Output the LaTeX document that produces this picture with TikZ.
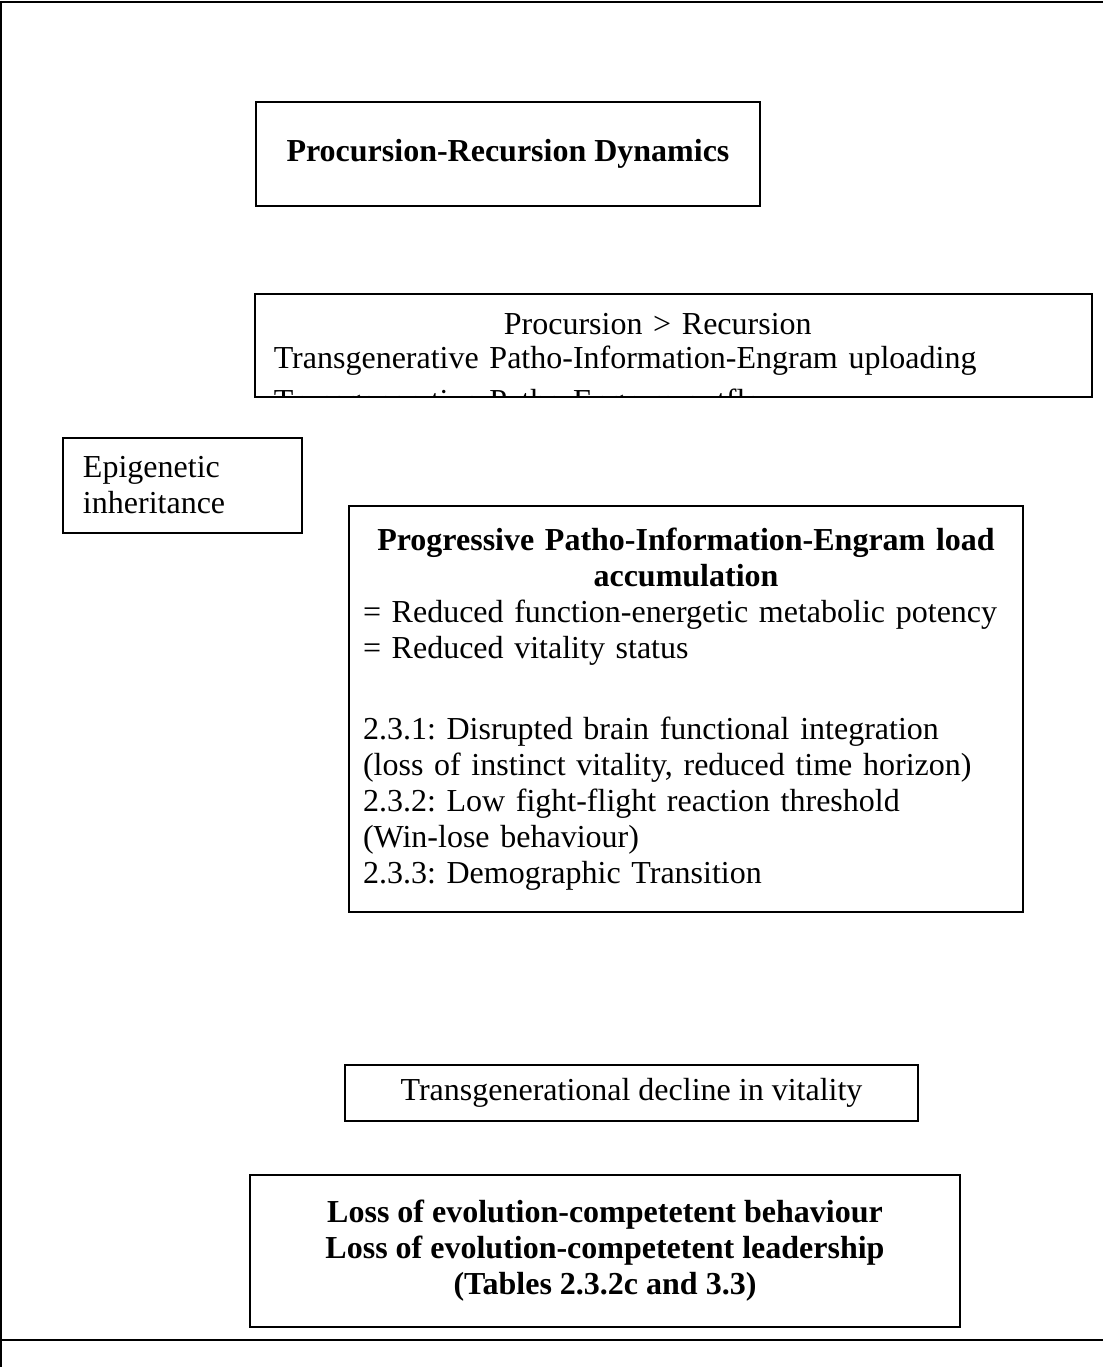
\documentclass[tikz,border=0pt]{standalone}
\usepackage{fontspec}
\setmainfont{Liberation Serif}
\frenchspacing
\usetikzlibrary{positioning}

\begin{document}
\begin{tikzpicture}[x=0.5pt,y=-0.5pt]
	\tikzstyle{B} = [draw,line width=0.6pt,inner sep=0pt,font=\fontsize{16}{18}\selectfont]
	\tikzstyle{Bb} = [B,font=\fontsize{16}{18}\selectfont\bfseries]
	\tikzstyle{T} = [inner sep=0pt,font=\fontsize{16}{18}\selectfont]
	\tikzstyle{rim} = [line width=1pt]
	\useasboundingbox (0,0) rectangle (1103,1367);
	% page frame
	\draw[rim] (1103,2) -- (1,2) -- (1,1367);
	\draw[rim] (1,1340) -- (1103,1340);
	\node[Bb,minimum width=252pt,minimum height=52pt](PRD) at (508,154) {Procursion-Recursion Dynamics};
	\node[B,minimum width=418.5pt,minimum height=51.5pt,below of=PRD,node distance=95.75pt,xshift=82.75pt](PR) {};
	\begin{scope}
		\clip (PR.south west) rectangle (PR.north east);
		\node[T,anchor=north west,text width=384pt,align=center](PRtxt) at ([xshift=9.5pt,yshift=-10pt]PR.north west) {Procursion > Recursion\\[-1pt]
			\makebox[384pt][l]{Transgenerative Patho-Information-Engram uploading}\\[3.5pt]
			\makebox[384pt][l]{Transgenerative Patho-Engram outflow}};
	\end{scope}
	\node[B,inner xsep=10pt,text width=99.5pt,minimum height=47.5pt,align=left,below of=PR,node distance=70pt,xshift=-245.5pt](Epi) {Epigenetic\\ inheritance};
	\node[B,inner xsep=7pt,text width=323pt,minimum height=203pt,align=center,below of=PR,node distance=181.75pt,xshift=6.25pt](PPL) {\textbf{Progressive Patho-Information-Engram load}\\
		\textbf{accumulation}\\
		\makebox[323pt][l]{= Reduced function-energetic metabolic potency}\\
		\makebox[323pt][l]{= Reduced vitality status}\\[22.5pt]
		\makebox[323pt][l]{2.3.1: Disrupted brain functional integration}\\
		\makebox[323pt][l]{(loss of instinct vitality, reduced time horizon)}\\
		\makebox[323pt][l]{2.3.2: Low fight-flight reaction threshold}\\
		\makebox[323pt][l]{(Win-lose behaviour)}\\
		\makebox[323pt][l]{2.3.3: Demographic Transition}};
	\node[B,minimum width=286.5pt,minimum height=28pt,below of=PPL,node distance=192pt,xshift=-27.25pt](TD) {Transgenerational decline in vitality};
	\node[Bb,minimum width=355pt,minimum height=76pt,align=center,below of=TD,node distance=79pt,xshift=-13.25pt](LE) {Loss of evolution-competetent behaviour\\ Loss of evolution-competetent leadership\\ (Tables 2.3.2c and 3.3)};
\end{tikzpicture}
\end{document}
